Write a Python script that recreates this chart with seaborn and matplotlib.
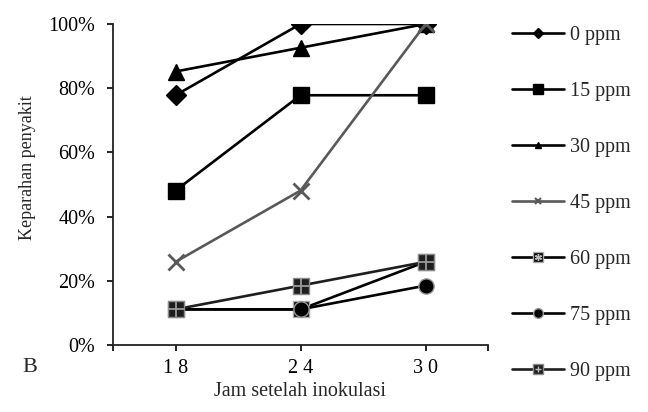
import numpy as np
import pandas as pd
import matplotlib
matplotlib.use("Agg")
import matplotlib.pyplot as plt
from matplotlib.lines import Line2D
import seaborn as sns

# data (fraction of disease severity)
jam = [18, 24, 30]
labels = ["0 ppm", "15 ppm", "30 ppm", "45 ppm", "60 ppm", "75 ppm", "90 ppm"]
ppm0 = [0.778, 1.000, 1.000]
ppm15 = [0.481, 0.778, 0.778]
ppm30 = [0.852, 0.926, 1.000]
ppm45 = [0.259, 0.481, 1.000]
ppm60 = [0.111, 0.111, 0.259]
ppm75 = [0.111, 0.111, 0.185]
ppm90 = [0.111, 0.185, 0.259]
series = [ppm0, ppm15, ppm30, ppm45, ppm60, ppm75, ppm90]

rows = []
for lab, vals in zip(labels, series):
    for j, v in zip(jam, vals):
        rows.append({"Jam": j, "Keparahan": v, "Dosis": lab})
df = pd.DataFrame(rows)

sns.set_style("ticks")
plt.rcParams["font.family"] = ["Liberation Serif", "DejaVu Serif"]

grey = "#595959"
colors = {lab: "black" for lab in labels}
colors["45 ppm"] = grey
colors["90 ppm"] = "#1e1e1e"
markers = {"0 ppm": "D", "15 ppm": "s", "30 ppm": "^", "45 ppm": "x",
           "60 ppm": "s", "75 ppm": "o", "90 ppm": "s"}
msize = {"0 ppm": 10, "15 ppm": 11, "30 ppm": 11, "45 ppm": 11,
         "60 ppm": 11, "75 ppm": 11, "90 ppm": 12}
edge = {"60 ppm": "#aaaaaa", "75 ppm": "#999999", "90 ppm": "#8a8a8a"}
overlay = {"60 ppm": (6, 2, 0), "90 ppm": "+"}

fig = plt.figure(figsize=(6.48, 4.12), dpi=100)
ax = fig.add_axes([113 / 648, 1 - 345 / 412, 375 / 648, 321 / 412])

for i, lab in enumerate(labels):
    sub = df[df["Dosis"] == lab]
    sns.lineplot(data=sub, x="Jam", y="Keparahan", ax=ax, color=colors[lab],
                 marker=markers[lab], markersize=msize[lab], linewidth=1.9,
                 markeredgecolor=edge.get(lab, colors[lab]),
                 markeredgewidth=2 if lab == "45 ppm" else 1,
                 zorder=3 + i, legend=False)
    if lab in overlay:
        ax.plot(sub["Jam"], sub["Keparahan"], linestyle="none",
                marker=overlay[lab], markersize=msize[lab] - 1, color="#9a9a9a",
                markeredgewidth=1.3, zorder=3 + i)

ax.set_xlim(15, 33)
ax.set_ylim(0, 1)
ax.set_xticks(jam)
ax.set_xticklabels(["1 8", "2 4", "3 0"])
ax.set_xticks([15, 33], minor=True)
ax.set_yticks(np.arange(0, 1.01, 0.2))
ax.set_yticklabels([f"{int(round(t * 100))}%" for t in np.arange(0, 1.01, 0.2)])
ax.tick_params(axis="both", which="both", length=4.3, width=1.2, labelsize=14.5,
               colors="black", direction="out")
ax.tick_params(axis="y", pad=8.5)
ax.tick_params(axis="x", pad=6)
for s in ["top", "right"]:
    ax.spines[s].set_visible(False)
for s in ["left", "bottom"]:
    ax.spines[s].set_linewidth(1.3)
    ax.spines[s].set_color("#222222")
ax.set_xlabel("")
ax.set_ylabel("")

fig.text(300 / 648, 1 - 392 / 412, "Jam setelah inokulasi", ha="center",
         va="center", fontsize=14.5)
fig.text(28 / 648, 1 - 168 / 412, "Keparahan penyakit", ha="center",
         va="center", rotation=90, fontsize=13)
fig.text(22 / 648, 1 - 368 / 412, "B", ha="left", va="center", fontsize=16)

# legend with small markers like the original
handles = []
for lab in labels:
    ms = 5 if lab in ("0 ppm", "30 ppm", "45 ppm") else 7
    h = Line2D([0], [0], color=colors[lab], linewidth=1.9, marker=markers[lab],
               markersize=ms, markeredgecolor=edge.get(lab, colors[lab]),
               markeredgewidth=1.5 if lab == "45 ppm" else 1)
    if lab in overlay:
        o = Line2D([0], [0], linestyle="none", marker=overlay[lab],
                   markersize=5, color="#bbbbbb", markeredgewidth=1)
        handles.append((h, o))
    else:
        handles.append(h)

fig.legend(handles, labels, loc="upper left",
           bbox_to_anchor=(512 / 648, 1 - 26 / 412), frameon=False,
           fontsize=14.5, handlelength=2.6, handletextpad=0.3,
           labelspacing=1.83, borderpad=0, borderaxespad=0)

fig.savefig("out.png", dpi=100)
